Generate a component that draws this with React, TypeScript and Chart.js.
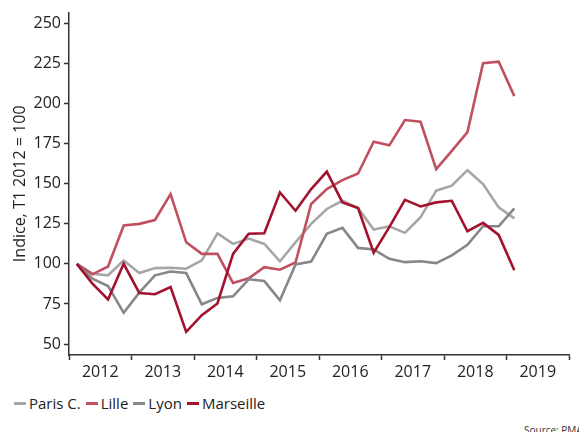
import React, { useEffect, useRef } from 'react';
import { Chart, registerables } from 'chart.js';

Chart.register(...registerables);

// Categories: years (each year holds 4 quarters); data run from T1 2012 to T1 2019
const years = ['2012', '2013', '2014', '2015', '2016', '2017', '2018', '2019'];
const yTicks = [50, 75, 100, 125, 150, 175, 200, 225, 250];

const seriesNames = ['Paris C.', 'Lille', 'Lyon', 'Marseille'];
const seriesColors = ['#a6a6a6', '#c0505f', '#878787', '#a3122f'];

const parisC = [100, 93.9, 92.9, 102.2, 94.3, 97.4, 97.6, 97, 102.2, 119.1, 112.5, 115.8, 112.5, 101.6, 113.5, 125, 134.3, 139.4, 134.9, 121.5, 123.5, 119.4, 129.1, 145.7, 148.8, 158.5, 149.8, 135.3, 128.4];
const lille = [100, 93.5, 98.4, 124, 125, 127.4, 143.6, 113.5, 106.3, 106.3, 88.1, 91, 98, 96.4, 101, 137.4, 146.7, 152.3, 156.4, 176.3, 174, 189.8, 188.7, 159.1, 170.5, 182.3, 225.2, 226.2, 204.7];
const lyon = [100, 90.8, 86.2, 69.5, 82.1, 92.9, 95.3, 94.3, 74.8, 78.8, 79.8, 90.4, 89.3, 77.3, 99.7, 101.5, 118.8, 122.5, 110, 109, 103.2, 101.1, 101.7, 100.5, 105.3, 111.9, 123.5, 123.5, 134.7];
const marseille = [100, 87.7, 77.8, 100.1, 81.9, 81.1, 85.6, 57.6, 68, 75.3, 106.3, 118.8, 119.1, 144.6, 133.2, 146.7, 157.6, 138.4, 134.9, 107, 123, 140, 135.9, 138.4, 139.4, 120.4, 125.6, 118.1, 96];

const seriesValues = [parisC, lille, lyon, marseille];
const drawOrder = [3, 2, 1, 0];

const FONT = "'Open Sans', 'Noto Sans', sans-serif";
const TEXT = '#222222';
const AXIS = '#333333';

export default function App() {
  const ref = useRef<HTMLCanvasElement | null>(null);

  useEffect(() => {
    if (!ref.current) return;
    const quartersPerYear = 4;
    const chart = new Chart(ref.current, {
      type: 'line',
      data: {
        datasets: seriesValues.map((vals, k) => ({
          label: seriesNames[k],
          data: vals.map((v, i) => ({ x: i + 0.5, y: v })),
          borderColor: seriesColors[k],
          backgroundColor: seriesColors[k],
          borderWidth: 2.6,
          pointRadius: 0,
          tension: 0,
          fill: false,
          order: drawOrder[k],
        })),
      },
      options: {
        animation: false,
        responsive: false,
        maintainAspectRatio: false,
        layout: { padding: { top: 11, right: 10, bottom: 0, left: 0 } },
        plugins: {
          legend: { display: false },
          tooltip: { enabled: false },
        },
        scales: {
          x: {
            type: 'linear',
            min: 0,
            max: years.length * quartersPerYear,
            afterBuildTicks: (s: any) => {
              const t: any[] = [];
              for (let v = 0; v <= years.length * quartersPerYear; v += 2) t.push({ value: v });
              s.ticks = t;
            },
            afterFit: (s: any) => {
              s.height = 25;
            },
            ticks: {
              autoSkip: false,
              maxRotation: 0,
              padding: 3,
              color: TEXT,
              font: { family: FONT, size: 16 },
              callback: (value: any) => {
                const v = Number(value);
                if (v % 4 === 2) return years[(v - 2) / 4];
                return '';
              },
            },
            grid: {
              drawOnChartArea: false,
              drawTicks: true,
              tickLength: 5,
              tickWidth: 1.5,
              tickColor: (ctx: any) =>
                ctx.tick && ctx.tick.value % 4 === 0 ? AXIS : 'rgba(0,0,0,0)',
            },
            border: { display: true, color: AXIS, width: 1.5 },
          },
          y: {
            type: 'linear',
            min: 43.17,
            max: 256.83,
            afterBuildTicks: (s: any) => {
              s.ticks = yTicks.map((v) => ({ value: v }));
            },
            afterFit: (s: any) => {
              s.width = 69;
            },
            ticks: {
              padding: 3,
              color: TEXT,
              font: { family: FONT, size: 16 },
            },
            grid: {
              drawOnChartArea: false,
              drawTicks: true,
              tickLength: 5,
              tickWidth: 1.5,
              tickColor: AXIS,
            },
            border: { display: true, color: AXIS, width: 1.5 },
            title: {
              display: true,
              text: 'Indice, T1 2012 = 100',
              color: TEXT,
              font: { family: FONT, size: 16 },
              padding: { top: 11, bottom: 0 },
            },
          },
        },
      },
    });
    return () => chart.destroy();
  }, []);

  return (
    <div
      style={{
        position: 'fixed',
        left: 0,
        top: 0,
        width: 579,
        height: 432,
        overflow: 'hidden',
        background: '#ffffff',
        fontFamily: FONT,
      }}
    >
      <canvas ref={ref} width={579} height={380} style={{ display: 'block' }} />
      <div
        style={{
          position: 'absolute',
          left: 14,
          top: 393,
          height: 20,
          display: 'flex',
          alignItems: 'center',
          fontSize: 15,
          lineHeight: '20px',
          color: TEXT,
          whiteSpace: 'nowrap',
        }}
      >
        {seriesNames.map((name, k) => (
          <div key={name} style={{ display: 'flex', alignItems: 'center', marginRight: 5 }}>
            <span
              style={{
                display: 'inline-block',
                width: 12,
                height: 3,
                background: seriesColors[k],
                marginRight: 3,
              }}
            />
            <span>{name}</span>
          </div>
        ))}
      </div>
      <div
        style={{
          position: 'absolute',
          left: 524,
          top: 424,
          fontSize: 10,
          lineHeight: '12px',
          color: '#333333',
          whiteSpace: 'nowrap',
        }}
      >
        Source: PMA
      </div>
    </div>
  );
}
